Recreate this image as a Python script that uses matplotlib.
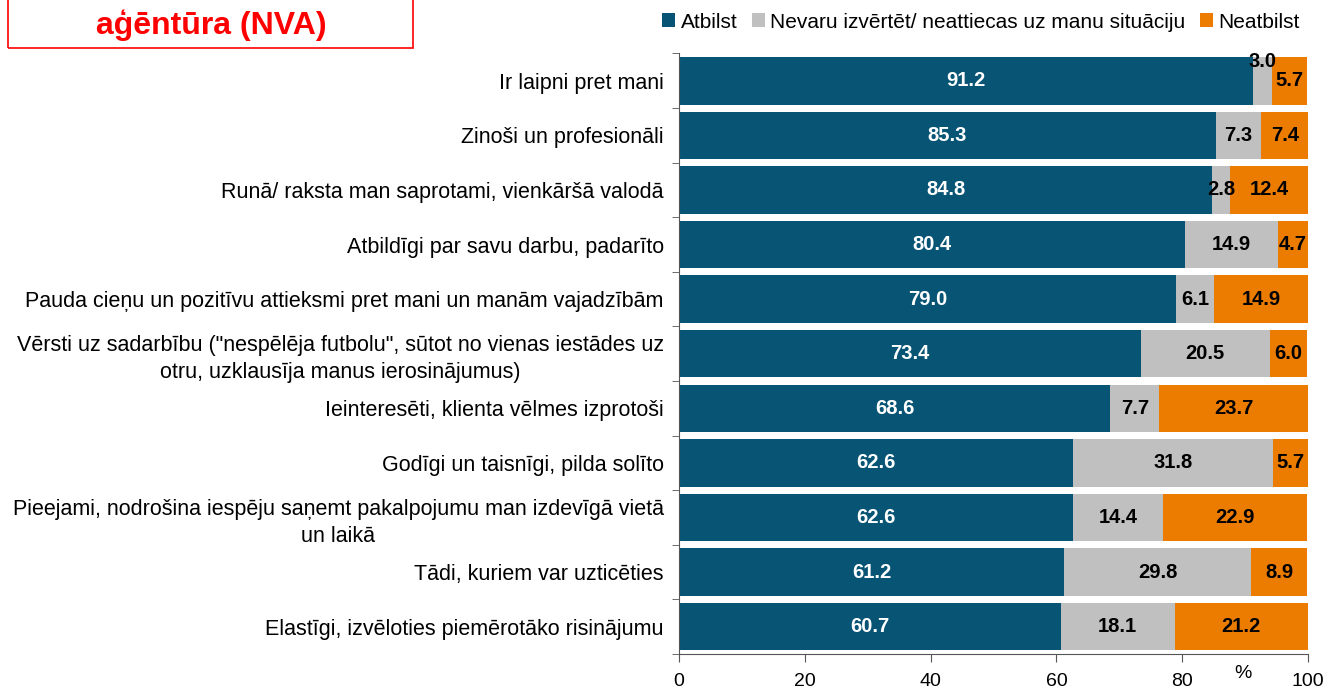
import matplotlib
matplotlib.use("Agg")
import matplotlib.pyplot as plt
import numpy as np
from matplotlib.patches import Rectangle

categories = [
    "Ir laipni pret mani",
    "Zinoši un profesionāli",
    "Runā/ raksta man saprotami, vienkāršā valodā",
    "Atbildīgi par savu darbu, padarīto",
    "Pauda cieņu un pozitīvu attieksmi pret mani un manām vajadzībām",
    "Vērsti uz sadarbību (\"nespēlēja futbolu\", sūtot no vienas iestādes uz\notru, uzklausīja manus ierosinājumus)",
    "Ieinteresēti, klienta vēlmes izprotoši",
    "Godīgi un taisnīgi, pilda solīto",
    "Pieejami, nodrošina iespēju saņemt pakalpojumu man izdevīgā vietā\nun laikā",
    "Tādi, kuriem var uzticēties",
    "Elastīgi, izvēloties piemērotāko risinājumu",
]
atbilst = [91.2, 85.3, 84.8, 80.4, 79.0, 73.4, 68.6, 62.6, 62.6, 61.2, 60.7]
nevaru = [3.0, 7.3, 2.8, 14.9, 6.1, 20.5, 7.7, 31.8, 14.4, 29.8, 18.1]
neatbilst = [5.7, 7.4, 12.4, 4.7, 14.9, 6.0, 23.7, 5.7, 22.9, 8.9, 21.2]
series_names = ["Atbilst", "Nevaru izvērtēt/ neattiecas uz manu situāciju", "Neatbilst"]
xticks = [0, 20, 40, 60, 80, 100]

plt.rcParams['font.family'] = ['Liberation Sans', 'DejaVu Sans']

colors = ["#075475", "#C0C0C0", "#EB7C00"]
label_colors = ["white", "black", "black"]

fig = plt.figure(figsize=(13.28, 6.91), dpi=100)
ax = fig.add_axes([679/1328, 1-654/691, (1308-679)/1328, (654-53.5)/691])

y = np.arange(len(categories))
left = np.zeros(len(categories))
handles = []
for vals, col, lc, name in zip([atbilst, nevaru, neatbilst], colors, label_colors, series_names):
    vals = np.array(vals)
    bars = ax.barh(y, vals, left=left, height=0.87, color=col, label=name)
    handles.append(bars)
    for i, (v, l) in enumerate(zip(vals, left)):
        dy = 0
        if v < 3.5 and i == 0:
            dy = -0.35
        ax.text(l + v/2, y[i] + dy, f"{v:.1f}", ha='center', va='center',
                color=lc, fontsize=14.5, fontweight='bold')
    left = left + vals

ax.set_xlim(0, 100)
ax.set_ylim(10.5, -0.5)
ax.set_xticks(xticks)
ax.set_xticklabels([str(t) for t in xticks], fontsize=14)
ax.tick_params(axis='x', direction='out', length=6, pad=8, color='#555555')
ax.set_yticks(y)
ax.set_yticklabels(categories, fontsize=15.5, multialignment='center', linespacing=1.35)
ax.tick_params(axis='y', which='major', length=0, pad=11)
ax.set_yticks(np.arange(-0.5, 10.6, 1), minor=True)
ax.tick_params(axis='y', which='minor', direction='out', length=5, color='#555555')
for s in ['top', 'right']:
    ax.spines[s].set_visible(False)
for s in ['left', 'bottom']:
    ax.spines[s].set_color('#555555')

ax.text(1243/1328, 1-674/691, "%", transform=fig.transFigure, ha='center', va='center', fontsize=14)

fig.legend(handles=handles, labels=series_names, loc='center right',
           bbox_to_anchor=(1318/1328, 1-22/691), ncol=3, frameon=False,
           fontsize=15, handlelength=0.62, handleheight=0.62, handletextpad=0.25,
           columnspacing=0.7)

fig.patches.append(Rectangle((8/1328, 1-48/691), 405/1328, 70/691, transform=fig.transFigure,
                             fill=False, edgecolor='#FF0000', linewidth=1.2))
fig.text(211/1328, 1-25/691, "aģēntūra (NVA)", ha='center', va='center', color='#FF0000',
         fontsize=23, fontweight='bold')

fig.savefig("out.png", dpi=100)
